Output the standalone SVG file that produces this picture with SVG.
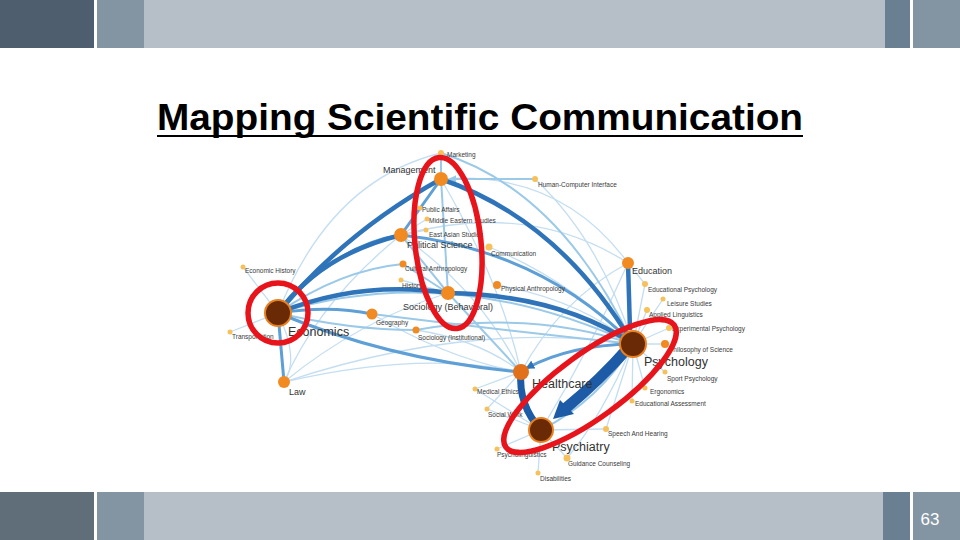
<svg xmlns="http://www.w3.org/2000/svg" width="960" height="540" viewBox="0 0 960 540">
<defs>
<style>
.e1{fill:none;stroke:#c4def1;stroke-width:1.3}
.e2{fill:none;stroke:#9bc9e8;stroke-width:2}
.e3{fill:none;stroke:#5e9fd6;stroke-width:3}
.e4{fill:none;stroke:#2f74b9;stroke-width:4.5}
.e5{fill:none;stroke:#1d5ba7;stroke-width:7}
.big{fill:#6a2a05;stroke:#e8801f;stroke-width:2}
.mid{fill:#f28a22}
.hc{fill:#e0701a}
.sm{fill:#f6c15a}
.lb{font-family:"Liberation Sans",Arial,sans-serif;fill:#3a3a3a;font-size:6.5px}
.lbm{font-family:"Liberation Sans",Arial,sans-serif;fill:#333;font-size:9px}
.lbb{font-family:"Liberation Sans",Arial,sans-serif;fill:#333;font-size:12.5px}
.red{fill:none;stroke:#e8141b;stroke-width:5.5}
</style>
<marker id="ad" viewBox="0 0 10 10" refX="8" refY="5" markerWidth="3" markerHeight="3" orient="auto"><path d="M0,0L10,5L0,10z" fill="#2f74b9"/></marker>
<marker id="al" viewBox="0 0 10 10" refX="8" refY="5" markerWidth="4" markerHeight="4" orient="auto"><path d="M0,0L10,5L0,10z" fill="#9bc9e8"/></marker>
</defs>
<rect width="960" height="540" fill="#ffffff"/>
<g id="top-bar">
<rect x="0" y="0" width="94" height="48" fill="#4e5e6e"/>
<rect x="97" y="0" width="47" height="48" fill="#8394a2"/>
<rect x="144" y="0" width="741" height="48" fill="#b6bfc8"/>
<rect x="885" y="0" width="25" height="48" fill="#6b7f92"/>
<rect x="913" y="0" width="47" height="48" fill="#8394a2"/>
</g>
<g id="bottom-bar">
<rect x="0" y="492" width="94" height="48" fill="#606e79"/>
<rect x="97" y="492" width="47" height="48" fill="#8394a2"/>
<rect x="144" y="492" width="739" height="48" fill="#b6bfc8"/>
<rect x="883" y="492" width="27" height="48" fill="#6b7f92"/>
<rect x="913" y="492" width="47" height="48" fill="#8394a2"/>
<text x="930" y="525" font-family="'Liberation Sans',Arial,sans-serif" font-size="17" fill="#ffffff" text-anchor="middle">63</text>
</g>
<g id="title">
<text x="157" y="130" font-family="'Liberation Sans',Arial,sans-serif" font-size="37" font-weight="bold" fill="#000" textLength="646" lengthAdjust="spacingAndGlyphs">Mapping Scientific Communication</text>
<line x1="157" y1="136" x2="803" y2="136" stroke="#000" stroke-width="2"/>
</g>
<g id="connectors">
<path class="e1" d="M278,313 Q330,180 441,153"/>
<path class="e1" d="M535,179 Q600,240 633,344"/>
<path class="e1" d="M441,179 Q500,280 521,372"/>
<path class="e1" d="M284,382 Q360,320 448,293"/>
<path class="e1" d="M284,382 Q470,320 633,344"/>
<path class="e1" d="M284,382 Q420,350 521,372"/>
<path class="e1" d="M284,382 Q320,300 401,235"/>
<path class="e1" d="M401,235 Q480,290 521,372"/>
<path class="e1" d="M628,263 Q560,300 521,372"/>
<path class="e1" d="M628,263 Q590,350 541,430"/>
<path class="e1" d="M441,179 Q560,170 628,263"/>
<path class="e1" d="M401,235 Q530,200 628,263"/>
<path class="e1" d="M489,247 Q570,280 633,344"/>
<path class="e1" d="M497,285 Q580,300 633,344"/>
<path class="e1" d="M401,280 L448,293"/>
<path class="e1" d="M278,313 L243,267"/>
<path class="e1" d="M278,313 L230,332"/>
<path class="e1" d="M401,235 L420,208 M401,235 L427,219 M401,235 L426,230"/>
<path class="e1" d="M441,179 L420,208"/>
<path class="e1" d="M633,344 L645,284 M633,344 L663,299 M633,344 L647,310 M633,344 L669,328 M633,344 L665,344 M633,344 L665,372 M633,344 L645,388 M633,344 L632,401"/>
<path class="e1" d="M628,263 L645,284"/>
<path class="e1" d="M541,430 L475,389 M541,430 L487,409 M541,430 L497,449 M541,430 L567,458 M541,430 L538,473 M541,430 L606,429"/>
<path class="e1" d="M633,344 L606,429 M633,344 Q600,420 567,458"/>
<path class="e1" d="M521,372 L475,389 M521,372 L487,409"/>
<path class="e1" d="M278,313 Q300,360 284,382"/>
<path class="e1" d="M372,314 Q450,360 521,372"/>
<path class="e1" d="M416,330 Q480,340 521,372"/>
<path class="e2" d="M441,153 Q560,190 633,344"/>
<path class="e2" d="M535,179 L450,179" marker-end="url(#al)"/>
<path class="e2" d="M441,179 L448,293"/>
<path class="e2" d="M441,153 L441,172"/>
<path class="e2" d="M401,235 L448,293"/>
<path class="e2" d="M416,330 Q530,310 633,344"/>
<path class="e2" d="M372,314 Q500,330 633,344"/>
<path class="e2" d="M278,313 Q350,330 416,330"/>
<path class="e2" d="M448,293 L521,372"/>
<path class="e2" d="M403,264 L448,293"/>
<path class="e2" d="M278,313 Q340,270 403,264"/>
<path class="e2" d="M633,344 Q600,400 541,430"/>
<path class="e2" d="M278,313 Q450,260 633,344"/>
<path class="e3" d="M278,313 L284,382"/>
<path class="e3" d="M278,313 Q330,305 372,314"/>
<path class="e3" d="M278,313 Q390,360 521,372"/>
<path class="e3" d="M401,235 L441,179"/>
<path class="e3" d="M401,235 Q540,250 633,344"/>
<path class="e3" d="M278,313 Q335,245 401,235"/>
<path class="e3" d="M633,344 Q570,345 527,368" marker-end="url(#ad)"/>
<path class="e4" d="M278,313 Q345,232 441,179"/>
<path class="e4" d="M278,313 Q320,255 401,235"/>
<path class="e4" d="M278,313 Q360,280 448,293"/>
<path class="e4" d="M448,293 Q560,295 633,344"/>
<path class="e4" d="M441,179 Q560,220 633,344"/>
<path class="e4" d="M628,263 L630,330"/>
<path class="e5" d="M521,372 Q518,405 541,430"/>
<path d="M628,348 Q600,380 566,408" fill="none" stroke="#1d5ba7" stroke-width="11"/>
<path d="M553,419 L560,400 L574,414 Z" fill="#1d5ba7"/>
</g>
<g id="node-marketing"><circle class="sm" cx="441" cy="153" r="3"/><text class="lb" x="447" y="157">Marketing</text></g>
<g id="node-management"><circle class="mid" cx="441" cy="179" r="7"/><text class="lbm" x="383" y="173">Management</text></g>
<g id="node-hci"><circle class="sm" cx="535" cy="179" r="3"/><text class="lb" x="538" y="187">Human-Computer Interface</text></g>
<g id="node-public-affairs"><circle class="sm" cx="420" cy="208" r="2.5"/><text class="lb" x="422" y="212">Public Affairs</text></g>
<g id="node-middle-eastern"><circle class="sm" cx="427" cy="219" r="2.5"/><text class="lb" x="429" y="223">Middle Eastern Studies</text></g>
<g id="node-east-asian"><circle class="sm" cx="426" cy="230" r="2.5"/><text class="lb" x="429" y="237">East Asian Studies</text></g>
<g id="node-political-science"><circle class="mid" cx="401" cy="235" r="7"/><text class="lbm" x="407" y="248" font-size="10">Political Science</text></g>
<g id="node-communication"><circle class="sm" cx="489" cy="247" r="3.5"/><text class="lb" x="491" y="256">Communication</text></g>
<g id="node-cultural-anthropology"><circle class="mid" cx="403" cy="264" r="3.5"/><text class="lb" x="405" y="271">Cultural Anthropology</text></g>
<g id="node-history"><circle class="sm" cx="401" cy="280" r="2.5"/><text class="lb" x="402" y="288">History</text></g>
<g id="node-physical-anthropology"><circle class="mid" cx="497" cy="285" r="4"/><text class="lb" x="501" y="291">Physical Anthropology</text></g>
<g id="node-sociology-behavioral"><circle class="mid" cx="448" cy="293" r="7"/><text class="lbm" x="403" y="310" font-size="8.5">Sociology (Behavioral)</text></g>
<g id="node-economic-history"><circle class="sm" cx="243" cy="267" r="2.5"/><text class="lb" x="245" y="273">Economic History</text></g>
<g id="node-economics"><circle class="big" cx="278" cy="313" r="13"/><text class="lbb" x="288" y="336">Economics</text></g>
<g id="node-transportation"><circle class="sm" cx="230" cy="332" r="2.5"/><text class="lb" x="232" y="339" font-size="6">Transportation</text></g>
<g id="node-geography"><circle class="mid" cx="372" cy="314" r="5.5"/><text class="lb" x="376" y="325" font-size="7">Geography</text></g>
<g id="node-sociology-institutional"><circle class="mid" cx="416" cy="330" r="3.5"/><text class="lb" x="418" y="340">Sociology (Institutional)</text></g>
<g id="node-law"><circle class="mid" cx="284" cy="382" r="6"/><text class="lbm" x="289" y="395" font-size="8">Law</text></g>
<g id="node-education"><circle class="mid" cx="628" cy="263" r="6"/><text class="lbm" x="632" y="274" font-size="8">Education</text></g>
<g id="node-educational-psychology"><circle class="sm" cx="645" cy="284" r="3"/><text class="lb" x="648" y="292">Educational Psychology</text></g>
<g id="node-leisure-studies"><circle class="sm" cx="663" cy="299" r="2.5"/><text class="lb" x="667" y="306" font-size="6">Leisure Studies</text></g>
<g id="node-applied-linguistics"><circle class="sm" cx="647" cy="310" r="3"/><text class="lb" x="649" y="317">Applied Linguistics</text></g>
<g id="node-experimental-psychology"><circle class="sm" cx="669" cy="328" r="3"/><text class="lb" x="672" y="331">Experimental Psychology</text></g>
<g id="node-philosophy-of-science"><circle class="mid" cx="665" cy="344" r="4"/><text class="lb" x="669" y="352" font-size="7">Philosophy of Science</text></g>
<g id="node-psychology"><circle class="big" cx="633" cy="344" r="13"/><text class="lbb" x="644" y="366">Psychology</text></g>
<g id="node-sport-psychology"><circle class="sm" cx="665" cy="372" r="2.5"/><text class="lb" x="667" y="381">Sport Psychology</text></g>
<g id="node-ergonomics"><circle class="sm" cx="645" cy="388" r="2.5"/><text class="lb" x="650" y="394">Ergonomics</text></g>
<g id="node-educational-assessment"><circle class="sm" cx="632" cy="401" r="2.5"/><text class="lb" x="635" y="406">Educational Assessment</text></g>
<g id="node-healthcare"><circle class="hc" cx="521" cy="372" r="8"/><text class="lbb" x="532" y="388" font-size="11">Healthcare</text></g>
<g id="node-medical-ethics"><circle class="sm" cx="475" cy="389" r="2.5"/><text class="lb" x="477" y="394" font-size="6">Medical Ethics</text></g>
<g id="node-social-work"><circle class="sm" cx="487" cy="409" r="2.5"/><text class="lb" x="488" y="417" font-size="6">Social Work</text></g>
<g id="node-psychiatry"><circle class="big" cx="541" cy="430" r="12" fill="#7a2e05"/><text class="lbb" x="552" y="451" font-size="11.5">Psychiatry</text></g>
<g id="node-speech-and-hearing"><circle class="sm" cx="606" cy="429" r="3"/><text class="lb" x="608" y="436">Speech And Hearing</text></g>
<g id="node-psycholinguistics"><circle class="sm" cx="497" cy="449" r="2.5"/><text class="lb" x="497" y="457" font-size="6">Psycholinguistics</text></g>
<g id="node-guidance-counseling"><circle class="sm" cx="567" cy="458" r="3.5"/><text class="lb" x="568" y="466">Guidance Counseling</text></g>
<g id="node-disabilities"><circle class="sm" cx="538" cy="473" r="2.5"/><text class="lb" x="540" y="481" font-size="6">Disabilities</text></g>
<g id="highlights">
<circle class="red" cx="278" cy="313" r="30"/>
<ellipse class="red" cx="448" cy="243" rx="33" ry="86" transform="rotate(-6 448 243)"/>
<ellipse class="red" cx="590" cy="386" rx="104" ry="32" transform="rotate(-36 590 386)"/>
</g>
</svg>
